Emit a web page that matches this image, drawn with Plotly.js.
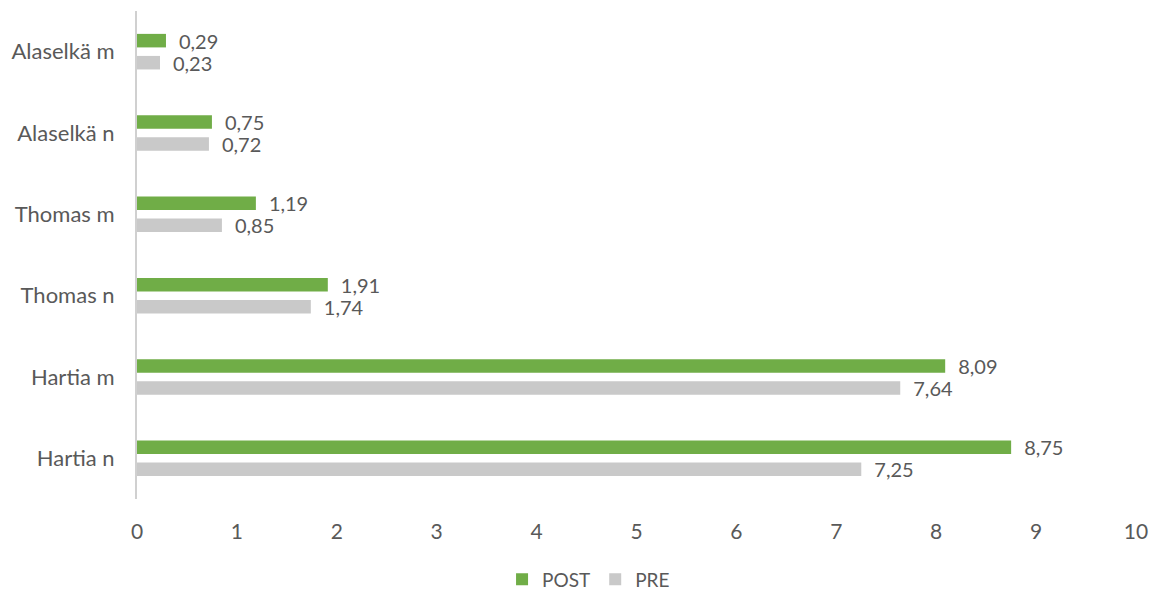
<!DOCTYPE html>
<html>
<head>
<meta charset="utf-8">
<script src="https://cdn.plot.ly/plotly-3.0.1.min.js"></script>
<style>html,body{margin:0;padding:0;background:#fff;}#chart{width:1154px;height:593px;}</style>
</head>
<body>
<div id="chart"></div>
<script>
const categories = ['Hartia n', 'Hartia m', 'Thomas n', 'Thomas m', 'Alaselkä n', 'Alaselkä m'];
const postValues = [8.75, 8.09, 1.91, 1.19, 0.75, 0.29];
const preValues = [7.25, 7.64, 1.74, 0.85, 0.72, 0.23];
const xTicks = [0, 1, 2, 3, 4, 5, 6, 7, 8, 9, 10];

const fmt = v => '\u2002' + v.toFixed(2).replace('.', ',');
const FONT = 'Lato, "Open Sans", sans-serif';
const TXT = '#595959';

const pre = {
  type: 'bar', orientation: 'h', name: 'PRE',
  y: categories, x: preValues,
  text: preValues.map(fmt), textposition: 'outside', cliponaxis: false, constraintext: 'none',
  textfont: {family: FONT, size: 20, color: TXT},
  marker: {color: '#C9C9C9'}, hoverinfo: 'skip'
};
const post = {
  type: 'bar', orientation: 'h', name: 'POST',
  y: categories, x: postValues,
  text: postValues.map(fmt), textposition: 'outside', cliponaxis: false, constraintext: 'none',
  textfont: {family: FONT, size: 20, color: TXT},
  marker: {color: '#70AD47'}, hoverinfo: 'skip'
};

const layout = {
  width: 1154, height: 593,
  margin: {l: 137, r: 18, t: 11, b: 94, autoexpand: false},
  paper_bgcolor: '#fff', plot_bgcolor: '#fff',
  barmode: 'group', bargap: 0.458, bargroupgap: 0.386,
  font: {family: FONT, size: 21, color: TXT},
  showlegend: true,
  legend: {orientation: 'h', x: 0.452, xanchor: 'center', y: -0.165, yanchor: 'middle',
           itemwidth: 30, traceorder: 'reversed', font: {family: FONT, size: 19, color: TXT}},
  xaxis: {range: [0, 10], tickvals: xTicks, ticktext: xTicks.map(String),
          showgrid: false, zeroline: false, showline: false,
          ticks: 'outside', ticklen: 14, tickcolor: 'rgba(0,0,0,0)',
          tickfont: {family: FONT, size: 21, color: TXT}, fixedrange: true},
  yaxis: {type: 'category', categoryorder: 'array', categoryarray: categories,
          showgrid: false, zeroline: false, showline: true, linecolor: '#D0D0D0', linewidth: 2,
          ticks: 'outside', ticklen: 16, tickcolor: 'rgba(0,0,0,0)',
          tickfont: {family: FONT, size: 22, color: TXT}, fixedrange: true}
};

Plotly.newPlot('chart', [pre, post], layout, {staticPlot: true, displayModeBar: false});
</script>
</body>
</html>
